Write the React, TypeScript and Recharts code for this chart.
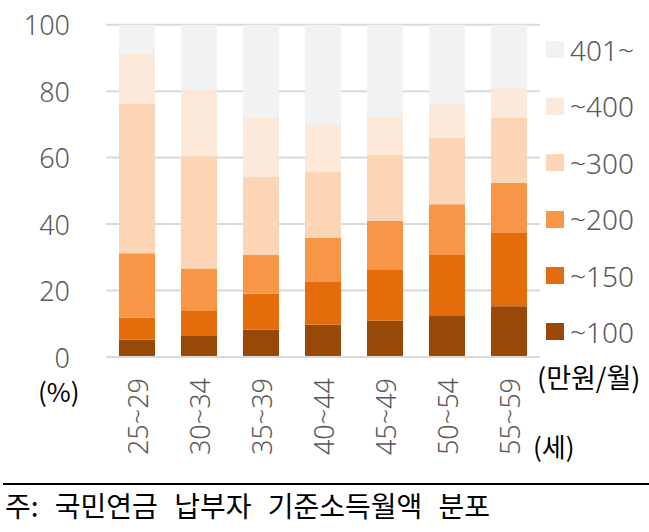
import React from "react";
import { BarChart, Bar, XAxis, YAxis, CartesianGrid, Legend } from "recharts";

const ages = ["25~29", "30~34", "35~39", "40~44", "45~49", "50~54", "55~59"];
const upTo100 = [5.3, 6.3, 8.3, 9.7, 10.9, 12.6, 15.3];
const upTo150 = [6.5, 7.8, 10.7, 12.9, 15.3, 18.1, 22.0];
const upTo200 = [19.4, 12.5, 11.7, 13.2, 14.8, 15.3, 15.1];
const upTo300 = [45.1, 33.9, 23.5, 19.9, 20.0, 20.1, 19.5];
const upTo400 = [14.9, 19.8, 17.8, 14.1, 11.3, 10.0, 9.0];
const over401 = [8.8, 19.7, 28.0, 30.2, 27.7, 23.9, 19.1];
const yTicks = [0, 20, 40, 60, 80, 100];

const series = [
  { key: "s100", name: "~100", values: upTo100, color: "#984807" },
  { key: "s150", name: "~150", values: upTo150, color: "#E46C0A" },
  { key: "s200", name: "~200", values: upTo200, color: "#F79646" },
  { key: "s300", name: "~300", values: upTo300, color: "#FBD5B5" },
  { key: "s400", name: "~400", values: upTo400, color: "#FDE9D9" },
  { key: "s401", name: "401~", values: over401, color: "#F2F2F2" },
];

const data = ages.map((age, i) => {
  const row: any = { age };
  series.forEach((s) => (row[s.key] = s.values[i]));
  return row;
});

const FONT = "'Noto Sans', 'Noto Sans CJK KR', sans-serif";
const KFONT = "'Noto Sans CJK KR', 'Noto Sans', sans-serif";

const YTick = (props: any) => {
  const { y, payload } = props;
  return (
    <text x={70} y={y} textAnchor="end" dominantBaseline="central" fill="#595959" fontSize={27} fontWeight={300} fontFamily={FONT}>
      {payload.value}
    </text>
  );
};

const XTick = (props: any) => {
  const { x, payload } = props;
  return (
    <text
      transform={`translate(${x},378) rotate(-90)`}
      textAnchor="end"
      dominantBaseline="central"
      fill="#595959"
      fontSize={27}
      fontWeight={300}
      fontFamily={FONT}
    >
      {payload.value}
    </text>
  );
};

// legend drawn top to bottom from the last series to the first
const LegendContent = (props: any) => {
  const payload = props.payload || [];
  const items = [...series].reverse().map((s) => {
    const p = payload.find((it: any) => it.value === s.name);
    return { value: s.name, color: p ? p.color : s.color };
  });
  return (
    <div>
      {items.map((it) => (
        <div key={it.value} style={{ height: 56.4, display: "flex", alignItems: "center" }}>
          <span style={{ width: 18, height: 17, background: it.color, display: "inline-block", marginRight: 6 }} />
          <span style={{ fontSize: 28, color: "#595959", fontFamily: FONT, fontWeight: 300, lineHeight: 1 }}>{it.value}</span>
        </div>
      ))}
    </div>
  );
};

const label = (text: string, style: React.CSSProperties) => (
  <div style={{ position: "absolute", whiteSpace: "pre", lineHeight: 1, fontFamily: KFONT, color: "#000", ...style }}>
    {text}
  </div>
);

export default function App() {
  return (
    <div style={{ position: "absolute", left: 0, top: 0, width: 649, height: 532, background: "#fff" }}>
      <BarChart
        width={649}
        height={532}
        data={data}
        barSize={36}
        margin={{ top: 24.7, left: 10, right: 109, bottom: 155 }}
      >
        <CartesianGrid vertical={false} stroke="#D9D9D9" strokeWidth={2} />
        <XAxis
          dataKey="age"
          axisLine={{ stroke: "#D9D9D9", strokeWidth: 2 }}
          tickLine={false}
          tick={<XTick />}
          interval={0}
          height={20}
        />
        <YAxis
          width={96}
          domain={[0, 100]}
          ticks={yTicks}
          axisLine={false}
          tickLine={false}
          tick={<YTick />}
        />
        <Legend
          layout="vertical"
          align="center"
          verticalAlign="middle"
          content={<LegendContent />}
          wrapperStyle={{ left: 546, top: 21.8, width: 100 }}
        />
        {series.map((s) => (
          <Bar key={s.key} dataKey={s.key} name={s.name} stackId="a" fill={s.color} isAnimationActive={false} />
        ))}
      </BarChart>
      {label("(%)", { left: 38, top: 378, fontSize: 26 })}
      {label("(만원/월)", { left: 537, top: 363, fontSize: 27 })}
      {label("(세)", { left: 533, top: 433, fontSize: 26 })}
      <div style={{ position: "absolute", left: 3, top: 483, width: 646, height: 1.5, background: "#000" }} />
      {label("주: 국민연금 납부자 기준소득월액 분포", { left: 5, top: 491, fontSize: 28, wordSpacing: 10 })}
    </div>
  );
}
